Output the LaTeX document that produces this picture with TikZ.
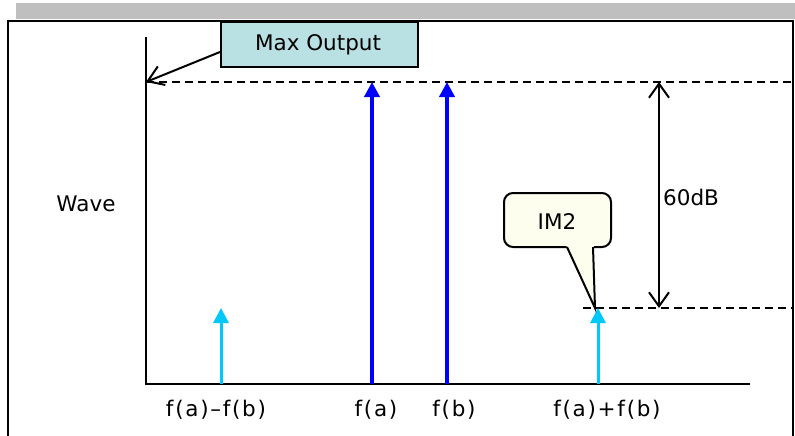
\documentclass[tikz,border=0pt]{standalone}
\usepackage{fontspec}
\setmainfont{DejaVu Sans}
\usetikzlibrary{arrows.meta}
\definecolor{barGray}{HTML}{BFBFBF}
\definecolor{maxFill}{HTML}{B9E0E2}
\definecolor{bubbleFill}{HTML}{FEFEEE}
\definecolor{sigBlue}{HTML}{0000FF}
\definecolor{sigCyan}{HTML}{00C8F8}
\tikzset{
  lbl/.style={inner sep=0pt, font=\fontsize{21.5}{25}\selectfont},
  xlbl/.style={inner sep=0pt, font=\fontsize{21.5}{25}\selectfont\addfontfeatures{LetterSpace=8}},
  axisline/.style={line width=2.3pt, black},
  guide/.style={line width=1.8pt, dash pattern=on 8pt off 5pt},
  mainsig/.style={line width=4pt, sigBlue, -{Triangle[width=15pt,length=15pt]}},
  imsig/.style={line width=3pt, sigCyan, -{Triangle[width=15pt,length=15pt]}},
  dimarrow/.style={line width=2pt, {Straight Barb[length=14pt,width=20pt]}-{Straight Barb[length=14pt,width=20pt]}},
}
\begin{document}
\begin{tikzpicture}[x=1pt,y=-1pt]
\useasboundingbox (0,0) rectangle (795,436);
% top gray bar and frame
\fill[barGray] (16,3) rectangle (795,19);
\draw[line width=2.3pt] (8,436) -- (8,21) -- (793,21) -- (793,436);
% axes
\coordinate (ytop) at (146,37);
\coordinate (orig) at (146,384);
\coordinate (xend) at (750,384);
\draw[axisline] (ytop) -- (orig) -- (xend);
% guide lines
\coordinate (g1a) at (146,82);
\coordinate (g1b) at (793,82);
\coordinate (g2a) at (583,308);
\coordinate (g2b) at (793,308);
\draw[guide] (g1a) -- (g1b);
\draw[guide] (g2a) -- (g2b);
% signals
\coordinate (d0) at (221,384); \coordinate (d1) at (221,308);
\coordinate (a0) at (372,384); \coordinate (a1) at (372,82);
\coordinate (b0) at (447,384); \coordinate (b1) at (447,82);
\coordinate (s0) at (598,384); \coordinate (s1) at (598,308);
\draw[imsig] (d0) -- (d1);
\draw[mainsig] (a0) -- (a1);
\draw[mainsig] (b0) -- (b1);
\draw[imsig] (s0) -- (s1);
% 60dB dimension
\coordinate (m0) at (659,82);
\coordinate (m1) at (659,308);
\draw[dimarrow] (m0) -- (m1);
\node[lbl, anchor=west] (db) at (663,197) {60dB};
% Max Output box
\node[draw, line width=2pt, fill=maxFill, minimum width=197pt, minimum height=45pt, inner sep=0pt, anchor=north west] (mo) at (220,21) {};
\node[lbl] (motext) at (318,45) {Max Output};
\coordinate (moa) at (220,52);
\draw[line width=2pt, -{Straight Barb[length=15pt,width=20pt]}] (moa) -- (g1a);
% IM2 bubble
\node[draw, line width=2pt, fill=bubbleFill, rounded corners=9pt, minimum width=107pt, minimum height=54pt, inner sep=0pt] (im2box) at (557.5,220) {};
\fill[bubbleFill] (566.5,244) -- (593.8,244) -- (593.8,250) -- (595,308) -- (566.5,249) -- cycle;
\coordinate (p1) at (567,247);
\coordinate (p2) at (593,247);
\coordinate (ptip) at (595,308);
\draw[line width=2pt, line join=miter] (p1) -- (ptip) -- (p2);
\node[lbl] (im2) at (557,222) {IM2};
% labels
\node[lbl] (wave) at (86,204) {Wave};
\node[xlbl] (ldiff) at (216,410) {f(a)–f(b)};
\node[xlbl] (la) at (376,410) {f(a)};
\node[xlbl] (lb) at (454,410) {f(b)};
\node[xlbl] (lsum) at (607,410) {f(a)+f(b)};
\end{tikzpicture}
\end{document}
